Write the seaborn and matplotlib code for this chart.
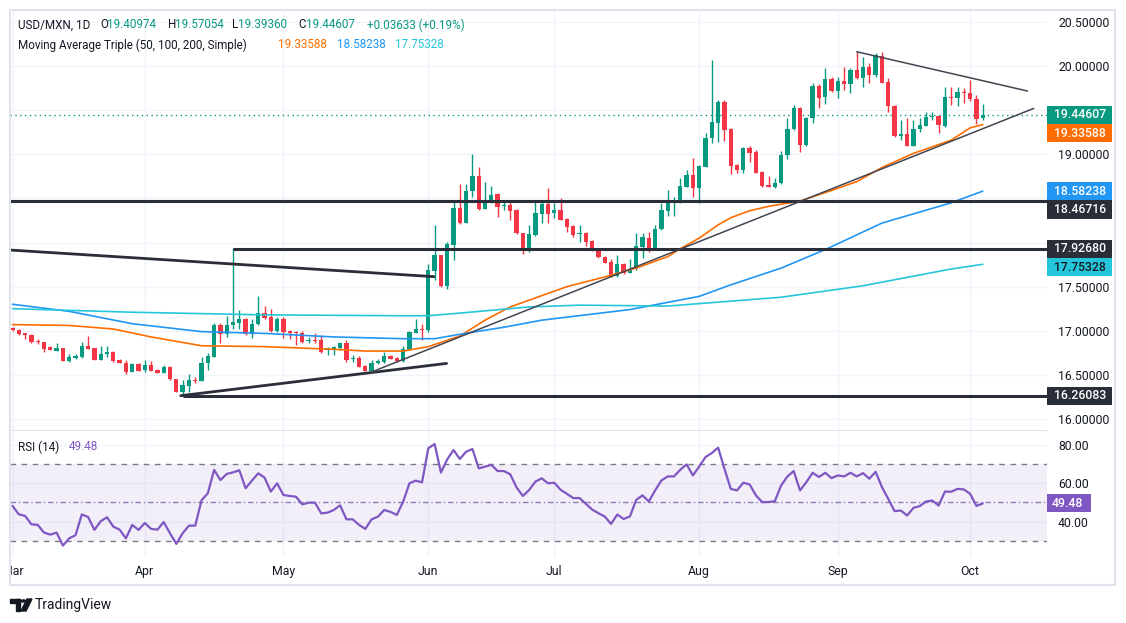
import matplotlib
matplotlib.use('Agg')
import matplotlib.pyplot as plt
from matplotlib.patches import Rectangle, Circle, Polygon
import seaborn as sns
import pandas as pd
import numpy as np

# daily USD/MXN candles, 1 Mar 2024 - 3 Oct 2024
opens = [17.035, 17.008, 16.971, 16.952, 16.884, 16.873, 16.816, 16.774, 16.808, 16.661,
         16.695, 16.699, 16.827, 16.805, 16.669, 16.733, 16.763, 16.669, 16.638, 16.536,
         16.623, 16.555, 16.612, 16.555, 16.525, 16.585, 16.449, 16.310, 16.374, 16.442,
         16.434, 16.631, 16.706, 17.065, 16.959, 17.065, 17.091, 17.129, 16.959, 17.073,
         17.197, 17.152, 16.997, 17.133, 16.997, 16.990, 16.978, 16.884, 16.895, 16.895,
         16.782, 16.793, 16.801, 16.857, 16.680, 16.688, 16.600, 16.548, 16.631, 16.650,
         16.714, 16.695, 16.657, 16.782, 16.978, 17.016, 17.008, 17.681, 17.858, 17.507,
         17.971, 18.387, 18.225, 18.583, 18.753, 18.379, 18.451, 18.545, 18.413, 18.425,
         18.368, 18.104, 17.934, 18.085, 18.323, 18.436, 18.330, 18.368, 18.262, 18.187,
         18.096, 18.111, 18.017, 17.922, 17.839, 17.783, 17.620, 17.756, 17.658, 17.696,
         17.952, 18.047, 17.934, 18.149, 18.360, 18.462, 18.451, 18.632, 18.765, 18.613,
         18.859, 19.180, 19.358, 19.596, 19.283, 18.879, 18.822, 19.067, 19.026, 18.799,
         18.655, 18.633, 18.671, 18.992, 19.283, 19.521, 19.105, 19.407, 19.774, 19.645,
         19.849, 19.721, 19.834, 19.793, 19.955, 19.861, 19.993, 19.898, 20.114, 19.823,
         19.547, 19.211, 19.230, 19.094, 19.283, 19.321, 19.426, 19.434, 19.321, 19.645,
         19.634, 19.710, 19.698, 19.623, 19.40974]
highs = [17.046, 17.016, 16.978, 16.963, 16.910, 16.876, 16.823, 16.857, 16.810, 16.737,
         16.737, 16.876, 16.940, 16.810, 16.827, 16.827, 16.774, 16.676, 16.669, 16.631,
         16.631, 16.669, 16.661, 16.563, 16.612, 16.600, 16.457, 16.442, 16.510, 16.480,
         16.706, 16.752, 17.084, 17.084, 17.167, 17.940, 17.235, 17.141, 17.129, 17.394,
         17.280, 17.243, 17.152, 17.160, 17.008, 16.997, 16.997, 16.933, 16.971, 16.952,
         16.820, 16.827, 16.876, 16.895, 16.725, 16.714, 16.608, 16.669, 16.676, 16.763,
         16.721, 16.706, 16.827, 16.997, 17.129, 17.076, 17.756, 18.198, 17.862, 18.009,
         18.462, 18.663, 18.663, 19.003, 18.851, 18.685, 18.640, 18.557, 18.481, 18.462,
         18.376, 18.111, 18.198, 18.462, 18.462, 18.613, 18.444, 18.508, 18.274, 18.198,
         18.198, 18.123, 18.028, 17.930, 17.847, 17.809, 17.858, 17.771, 17.809, 18.104,
         18.111, 18.123, 18.198, 18.444, 18.595, 18.519, 18.727, 18.821, 18.953, 18.878,
         19.237, 20.068, 19.615, 19.615, 19.300, 18.885, 19.086, 19.094, 19.048, 18.807,
         18.754, 18.727, 19.037, 19.407, 19.558, 19.540, 19.419, 19.804, 19.797, 19.974,
         19.880, 19.880, 19.993, 19.974, 20.163, 20.106, 20.031, 20.144, 20.163, 19.861,
         19.555, 19.389, 19.407, 19.389, 19.407, 19.483, 19.483, 19.438, 19.759, 19.759,
         19.759, 19.747, 19.842, 19.672, 19.57054]
lows = [17.001, 16.952, 16.903, 16.857, 16.850, 16.763, 16.782, 16.771, 16.657, 16.650,
        16.676, 16.687, 16.795, 16.665, 16.665, 16.699, 16.650, 16.634, 16.510, 16.529,
        16.544, 16.536, 16.546, 16.521, 16.517, 16.442, 16.306, 16.261, 16.310, 16.404,
        16.430, 16.555, 16.699, 16.857, 16.925, 17.016, 17.016, 16.952, 16.914, 17.065,
        17.129, 16.990, 16.990, 16.914, 16.903, 16.839, 16.857, 16.857, 16.865, 16.752,
        16.725, 16.725, 16.782, 16.650, 16.650, 16.585, 16.544, 16.536, 16.623, 16.638,
        16.676, 16.650, 16.650, 16.778, 16.971, 16.895, 16.990, 17.575, 17.492, 17.469,
        17.801, 18.209, 18.217, 18.519, 18.368, 18.375, 18.447, 18.293, 18.368, 18.255,
        18.096, 17.869, 17.896, 18.077, 18.217, 18.217, 18.274, 18.251, 18.123, 18.066,
        18.009, 17.960, 17.907, 17.824, 17.764, 17.605, 17.613, 17.643, 17.654, 17.688,
        17.820, 17.896, 17.922, 18.141, 18.300, 18.300, 18.444, 18.625, 18.519, 18.444,
        18.859, 19.123, 19.142, 19.154, 18.777, 18.784, 18.792, 18.916, 18.784, 18.633,
        18.626, 18.614, 18.663, 18.943, 19.275, 19.030, 19.094, 19.358, 19.521, 19.570,
        19.710, 19.634, 19.728, 19.691, 19.849, 19.766, 19.812, 19.880, 19.804, 19.483,
        19.200, 19.162, 19.094, 19.090, 19.256, 19.321, 19.389, 19.245, 19.313, 19.558,
        19.547, 19.577, 19.608, 19.343, 19.39360]
closes = [17.008, 16.959, 16.952, 16.876, 16.873, 16.797, 16.786, 16.805, 16.661, 16.699,
          16.718, 16.827, 16.797, 16.669, 16.736, 16.763, 16.661, 16.638, 16.536, 16.623,
          16.548, 16.612, 16.548, 16.525, 16.585, 16.449, 16.310, 16.381, 16.442, 16.438,
          16.631, 16.714, 17.065, 16.959, 17.065, 17.103, 17.133, 16.959, 17.073, 17.197,
          17.148, 16.997, 17.133, 16.990, 16.978, 16.978, 16.876, 16.895, 16.884, 16.763,
          16.801, 16.820, 16.857, 16.669, 16.695, 16.593, 16.548, 16.631, 16.661, 16.714,
          16.680, 16.657, 16.789, 16.990, 17.016, 17.008, 17.688, 17.858, 17.507, 17.983,
          18.387, 18.225, 18.583, 18.753, 18.376, 18.462, 18.538, 18.406, 18.425, 18.360,
          18.104, 17.934, 18.096, 18.330, 18.436, 18.323, 18.368, 18.255, 18.179, 18.085,
          18.111, 18.009, 17.915, 17.832, 17.771, 17.613, 17.756, 17.650, 17.696, 17.960,
          18.058, 17.922, 18.149, 18.368, 18.462, 18.474, 18.640, 18.765, 18.613, 18.867,
          19.180, 19.369, 19.596, 19.275, 18.867, 18.822, 19.067, 19.018, 18.792, 18.644,
          18.633, 18.671, 18.992, 19.283, 19.521, 19.105, 19.407, 19.774, 19.634, 19.849,
          19.721, 19.834, 19.793, 19.955, 19.861, 19.993, 19.898, 20.125, 19.812, 19.547,
          19.207, 19.226, 19.094, 19.283, 19.332, 19.419, 19.434, 19.332, 19.645, 19.634,
          19.710, 19.691, 19.623, 19.400, 19.44607]

rsi = [48.2, 43.8, 43.0, 38.6, 38.3, 34.3, 33.2, 34.3, 27.5, 31.3,
       32.9, 43.8, 42.4, 35.7, 40.2, 42.3, 37.4, 35.8, 31.3, 38.3,
       35.7, 39.3, 36.2, 35.8, 39.8, 33.9, 28.4, 33.9, 37.9, 37.9,
       51.1, 54.8, 67.0, 61.7, 64.9, 65.7, 66.8, 57.4, 61.4, 65.2,
       63.0, 55.7, 60.0, 53.9, 53.4, 53.0, 49.0, 49.9, 49.9, 44.3,
       44.7, 46.1, 48.5, 41.2, 41.2, 38.3, 36.2, 41.2, 42.6, 46.1,
       45.1, 43.5, 50.4, 60.0, 61.4, 60.5, 78.3, 80.5, 65.6, 72.5,
       77.4, 72.7, 76.5, 77.9, 67.8, 68.7, 69.6, 66.4, 66.4, 64.7,
       57.9, 53.4, 56.5, 60.9, 62.6, 60.0, 60.3, 56.6, 54.5, 52.3,
       52.3, 49.3, 46.3, 44.4, 42.7, 38.8, 43.7, 41.4, 42.7, 51.4,
       53.7, 50.5, 56.3, 61.5, 63.6, 63.6, 67.1, 69.9, 64.1, 68.8,
       73.7, 75.8, 78.6, 67.6, 57.1, 56.3, 60.3, 59.4, 53.7, 50.2,
       50.2, 50.7, 58.9, 63.6, 66.4, 56.3, 60.6, 65.5, 63.3, 65.5,
       62.7, 64.1, 63.6, 65.5, 63.6, 65.3, 62.4, 66.0, 58.0, 51.9,
       45.5, 45.8, 43.2, 47.2, 48.1, 50.5, 51.0, 48.4, 55.7, 55.6,
       57.1, 56.8, 54.5, 48.2, 49.48]

# moving averages, read at a handful of bars
ma50_bar = [0, 9, 16, 22, 30, 40, 51, 56, 62, 66, 71, 75, 79, 88, 94, 99, 104, 106, 109,
            112, 114, 117, 120, 125, 130, 134, 138, 143, 149, 152, 154]
ma50_val = [17.07, 17.06, 17.02, 16.93, 16.83, 16.82, 16.79, 16.77, 16.77, 16.82, 16.94,
            17.12, 17.27, 17.50, 17.61, 17.71, 17.84, 17.93, 18.05, 18.20, 18.28, 18.36,
            18.41, 18.47, 18.59, 18.69, 18.85, 19.01, 19.16, 19.30, 19.33588]
ma100_bar = [0, 9, 19, 30, 40, 51, 62, 67, 71, 78, 84, 98, 109, 114, 122, 129, 138, 149, 154]
ma100_val = [17.30, 17.22, 17.08, 16.99, 16.97, 16.93, 16.91, 16.91, 16.96, 17.04, 17.12,
             17.24, 17.39, 17.52, 17.71, 17.92, 18.22, 18.45, 18.58238]
ma200_bar = [0, 19, 40, 62, 66, 71, 82, 90, 104, 122, 135, 149, 154]
ma200_val = [17.25, 17.21, 17.18, 17.17, 17.17, 17.20, 17.27, 17.29, 17.28, 17.38, 17.51,
             17.70, 17.75328]

# drawings on the chart: (bar, price) end points
trend_lines = [((-0.4, 17.915), (66.9, 17.613), 2.0, '#2A2E39'),
               ((26.7, 16.264), (68.9, 16.630), 2.0, '#2A2E39'),
               ((56.9, 16.530), (162.1, 19.520), 1.1, '#434651'),
               ((134.0, 20.162), (161.1, 19.717), 1.1, '#434651')]
levels = [18.46716, 17.92680, 16.26083]
level_from = [-0.4, 35, 27]

GREEN, RED = '#089981', '#F23645'
ORANGE, BLUE, CYAN, PURPLE = '#FF6D00', '#2196F3', '#26C6DA', '#7E57C2'
DARK, TXT, GRID = '#2A2E39', '#131722', '#F0F3FA'

sns.set_theme(style='white')
plt.rcParams['font.family'] = ['Roboto', 'DejaVu Sans']

W, H = 1126, 623
fig = plt.figure(figsize=(W / 100, H / 100), dpi=100)


def fx(px):
    return px / W


def fy(py):
    return 1 - py / H


ax = fig.add_axes([fx(10), fy(431), fx(1047) - fx(10), fy(10) - fy(431)])
ax_rsi = fig.add_axes([fx(10), fy(556.7), fx(1047) - fx(10), fy(431) - fy(556.7)], sharex=ax)

o, h, l, c = map(np.array, (opens, highs, lows, closes))
bars = np.arange(len(c))
dates = pd.bdate_range('2024-03-01', periods=len(c))
month_first = pd.Series(bars, index=dates).groupby(dates.to_period('M')).first()
month_bars = month_first.values
month_names = [p.strftime('%b') for p in month_first.index]

# candles
up = c >= o
col = np.where(up, GREEN, RED)
ax.vlines(bars, l, h, colors=col, lw=1, zorder=3)
body = c - o
body = np.where(np.abs(body) < 0.012, np.where(up, 0.012, -0.012), body)
ax.bar(bars, body, bottom=o, width=0.68, color=col, linewidth=0, zorder=4)

# moving averages
sns.lineplot(x=ma50_bar, y=ma50_val, ax=ax, color=ORANGE, lw=1.2, zorder=5)
sns.lineplot(x=ma100_bar, y=ma100_val, ax=ax, color=BLUE, lw=1.2, zorder=5)
sns.lineplot(x=ma200_bar, y=ma200_val, ax=ax, color=CYAN, lw=1.2, zorder=5)

xmax = 164.2
ax.hlines(levels, level_from, xmax, color=DARK, lw=2.2, zorder=6)
for (x0, p0), (x1, p1), lw, lc in trend_lines:
    ax.plot([x0, x1], [p0, p1], color=lc, lw=lw, zorder=6)
ax.axhline(c[-1], color=GREEN, ls=(0, (1, 2.5)), lw=1, zorder=2)

ax.set_xlim(-0.4, xmax)
ax.set_ylim(15.864, 20.635)
ticks = np.arange(16, 20.51, 0.5)
ax.set_yticks(ticks)
ax.yaxis.tick_right()
ax.tick_params(axis='y', length=0, pad=8, labelsize=8.8, labelcolor=TXT)
ax.tick_params(axis='x', length=0, labelbottom=False)
ax.set_xticks(month_bars)
ax.grid(True, color=GRID, lw=1)
ax.set_axisbelow(True)
for s in ['top', 'right', 'left']:
    ax.spines[s].set_visible(False)
ax.spines['bottom'].set_color('#E0E3EB')
ax.spines['bottom'].set_linewidth(1.5)
ax.set_xlabel('')
ax.set_ylabel('')

# RSI panel
ax_rsi.axhspan(30, 70, color=PURPLE, alpha=0.09, lw=0)
ax_rsi.axhline(70, color='#787B86', ls=(0, (4, 4)), lw=1)
ax_rsi.axhline(30, color='#787B86', ls=(0, (4, 4)), lw=1)
ax_rsi.axhline(50, color='#8C7BB5', ls=(0, (4, 2, 1, 2)), lw=1)
sns.lineplot(x=bars, y=rsi, ax=ax_rsi, color=PURPLE, lw=1.6, zorder=5)
ax_rsi.set_ylim(21.7, 87.3)
ax_rsi.set_yticks([40, 60, 80])
ax_rsi.set_yticklabels(['40.00', '60.00', '80.00'])
ax_rsi.yaxis.tick_right()
ax_rsi.tick_params(axis='y', length=0, pad=8, labelsize=8.8, labelcolor=TXT)
ax_rsi.set_xticks(month_bars)
ax_rsi.set_xticklabels(month_names)
ax_rsi.tick_params(axis='x', length=0, pad=6, labelsize=8.8, labelcolor=TXT)
ax_rsi.grid(True, color=GRID, lw=1)
ax_rsi.set_axisbelow(True)
for s in ['top', 'right', 'left', 'bottom']:
    ax_rsi.spines[s].set_visible(False)
ax_rsi.set_xlabel('')
ax_rsi.set_ylabel('')
ax_rsi.set_xlim(-0.4, xmax)

# price tags on the right scale, pushed down when they overlap
tags = [(c[-1], GREEN, 'white'), (ma50_val[-1], ORANGE, 'white'), (ma100_val[-1], BLUE, 'white'),
        (levels[0], DARK, 'white'), (levels[1], DARK, 'white'), (ma200_val[-1], CYAN, TXT),
        (levels[2], DARK, 'white')]
tags.sort(key=lambda t: -t[0])
box_h = 18.3
prev = -100
tag_px = []
for val, face, tc in tags:
    ypx = H - ax.transData.transform((0, val))[1]
    ypx = max(ypx, prev + box_h)
    prev = ypx
    tag_px.append(ypx)
    fig.patches.append(Rectangle((fx(1047), fy(ypx + box_h / 2)), 64.5 / W, box_h / H,
                                 transform=fig.transFigure, facecolor=face, edgecolor='none', zorder=6))
    fig.text(fx(1054), fy(ypx), f'{val:.5f}', color=tc, fontsize=8.8, fontweight='medium',
             va='center', ha='left', zorder=7)

# scale labels hidden under a tag are left out, as on the chart
tick_labels = []
for t in ticks:
    tpx = H - ax.transData.transform((0, t))[1]
    covered = any(abs(tpx - p) < box_h / 2 + 5 for p in tag_px)
    tick_labels.append('' if covered else f'{t:.5f}')
ax.set_yticklabels(tick_labels)

ry = H - ax_rsi.transData.transform((0, rsi[-1]))[1]
fig.patches.append(Rectangle((fx(1047), fy(ry + 9)), 44 / W, 18 / H, transform=fig.transFigure,
                             facecolor=PURPLE, edgecolor='none', zorder=6))
fig.text(fx(1052), fy(ry), f'{rsi[-1]:.2f}', color='white', fontsize=8.8, fontweight='medium',
         va='center', ha='left', zorder=7)

# header legend
hdr = [('USD/MXN, 1D', 18, TXT), ('O', 100, TXT), ('19.40974', 107, GREEN), ('H', 168, TXT),
       ('19.57054', 175, GREEN), ('L', 232, TXT), ('19.39360', 238, GREEN), ('C', 298, TXT),
       ('19.44607', 306, GREEN), ('+0.03633 (+0.19%)', 367, GREEN)]
for s, xp, cc in hdr:
    fig.text(fx(xp), fy(25), s, color=cc, fontsize=8.4, va='center', ha='left')
hdr2 = [('Moving Average Triple (50, 100, 200, Simple)', 18, TXT), ('19.33588', 278, ORANGE),
        ('18.58238', 337, BLUE), ('17.75328', 395, CYAN)]
for s, xp, cc in hdr2:
    fig.text(fx(xp), fy(45), s, color=cc, fontsize=8.4, va='center', ha='left')
fig.text(fx(18), fy(447), 'RSI (14)', color=TXT, fontsize=8.4, va='center', ha='left')
fig.text(fx(69), fy(447), f'{rsi[-1]:.2f}', color=PURPLE, fontsize=8.4, va='center', ha='left')

# frame, left cover for the clipped month label
fig.patches.append(Rectangle((0, fy(586)), fx(9.5), (586 - 558) / H, transform=fig.transFigure,
                             facecolor='white', edgecolor='none', zorder=5))
fig.patches.append(Rectangle((fx(10), fy(585)), fx(1115) - fx(10), (585 - 10) / H,
                             transform=fig.transFigure, facecolor='none', edgecolor='#E0E3EB',
                             lw=1.5, zorder=8))

# TradingView mark
fig.patches.append(Rectangle((fx(10), fy(603)), 10 / W, 4 / H, transform=fig.transFigure,
                             color=TXT, zorder=8))
fig.patches.append(Rectangle((fx(16), fy(611)), 4 / W, 12 / H, transform=fig.transFigure,
                             color=TXT, zorder=8))
fig.patches.append(Circle((fx(23.5), fy(601)), 2 / W, transform=fig.transFigure, color=TXT, zorder=8))
fig.patches.append(Polygon([(fx(27), fy(599)), (fx(32), fy(599)), (fx(26), fy(611)), (fx(21), fy(611))],
                           closed=True, transform=fig.transFigure, color=TXT, zorder=8))
fig.text(fx(35), fy(605), 'TradingView', color=TXT, fontsize=10, va='center', ha='left')

fig.savefig('out.png', dpi=100, facecolor='white')
